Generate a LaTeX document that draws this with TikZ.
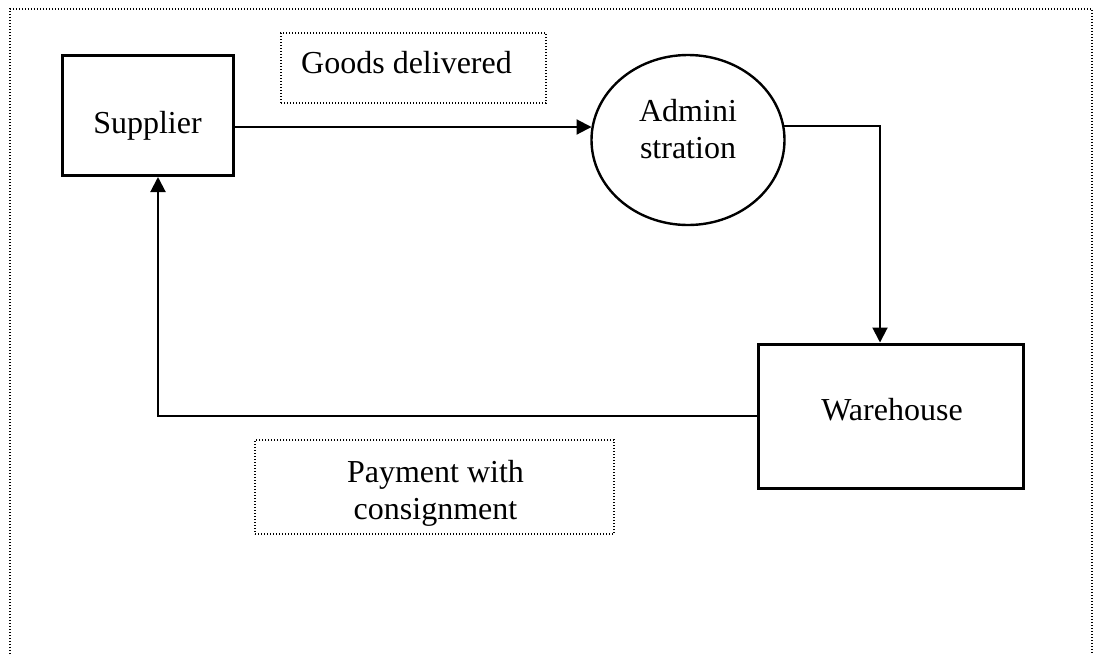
\documentclass[tikz,border=0pt]{standalone}
\usepackage{fontspec}
\setmainfont{Liberation Serif}
\usetikzlibrary{arrows.meta,shapes.geometric}
\begin{document}
\begin{tikzpicture}[x=1pt,y=-1pt,
  font=\fontsize{32}{37}\selectfont,
  box/.style={draw, line width=3pt, inner sep=0pt},
  lblbox/.style={draw, line width=1.2pt, dash pattern=on 1.2pt off 1.8pt, inner sep=0pt},
  txt/.style={inner sep=0pt, align=center},
  flow/.style={line width=2pt, -{Triangle[length=15pt,width=15pt]}},
  frame/.style={line width=1.2pt, dash pattern=on 1.2pt off 1.8pt}]
\useasboundingbox (0,0) rectangle (1094,654);
\draw[frame] (10,654) -- (10,9) -- (1092,9) -- (1092,654);

% shapes
\node[box, minimum width=171pt, minimum height=120pt] (sup) at (147.5,115.5) {};
\node[txt, anchor=base] (suptxt) at (147.5,133) {Supplier};

\node[box, ellipse, line width=2.4pt, minimum width=193pt, minimum height=170pt] (adm) at (688,140) {};
\node[txt] (admtxt) at (688,129) {Admini\\stration};

\node[box, minimum width=265pt, minimum height=144pt] (wh) at (890.5,416) {};
\node[txt, anchor=base] (whtxt) at (892,420) {Warehouse};

% label boxes
\node[lblbox, minimum width=265pt, minimum height=70pt] (gdbox) at (413.5,68) {};
\node[txt, anchor=base] (gdtxt) at (406.5,73) {Goods delivered};

\node[lblbox, minimum width=359pt, minimum height=94pt] (paybox) at (434.5,487) {};
\node[txt] (paytxt) at (435.5,493) {Payment with\\consignment};

% connectors
\draw[flow] ([yshift=-11.5pt]sup.east) -- ([yshift=-11.5pt]sup.east -| adm.172);
\draw[flow] (adm.8) -| ([xshift=-10.5pt]wh.north);
\draw[flow] (wh.west) -| ([xshift=10.5pt]sup.south);
\end{tikzpicture}
\end{document}
